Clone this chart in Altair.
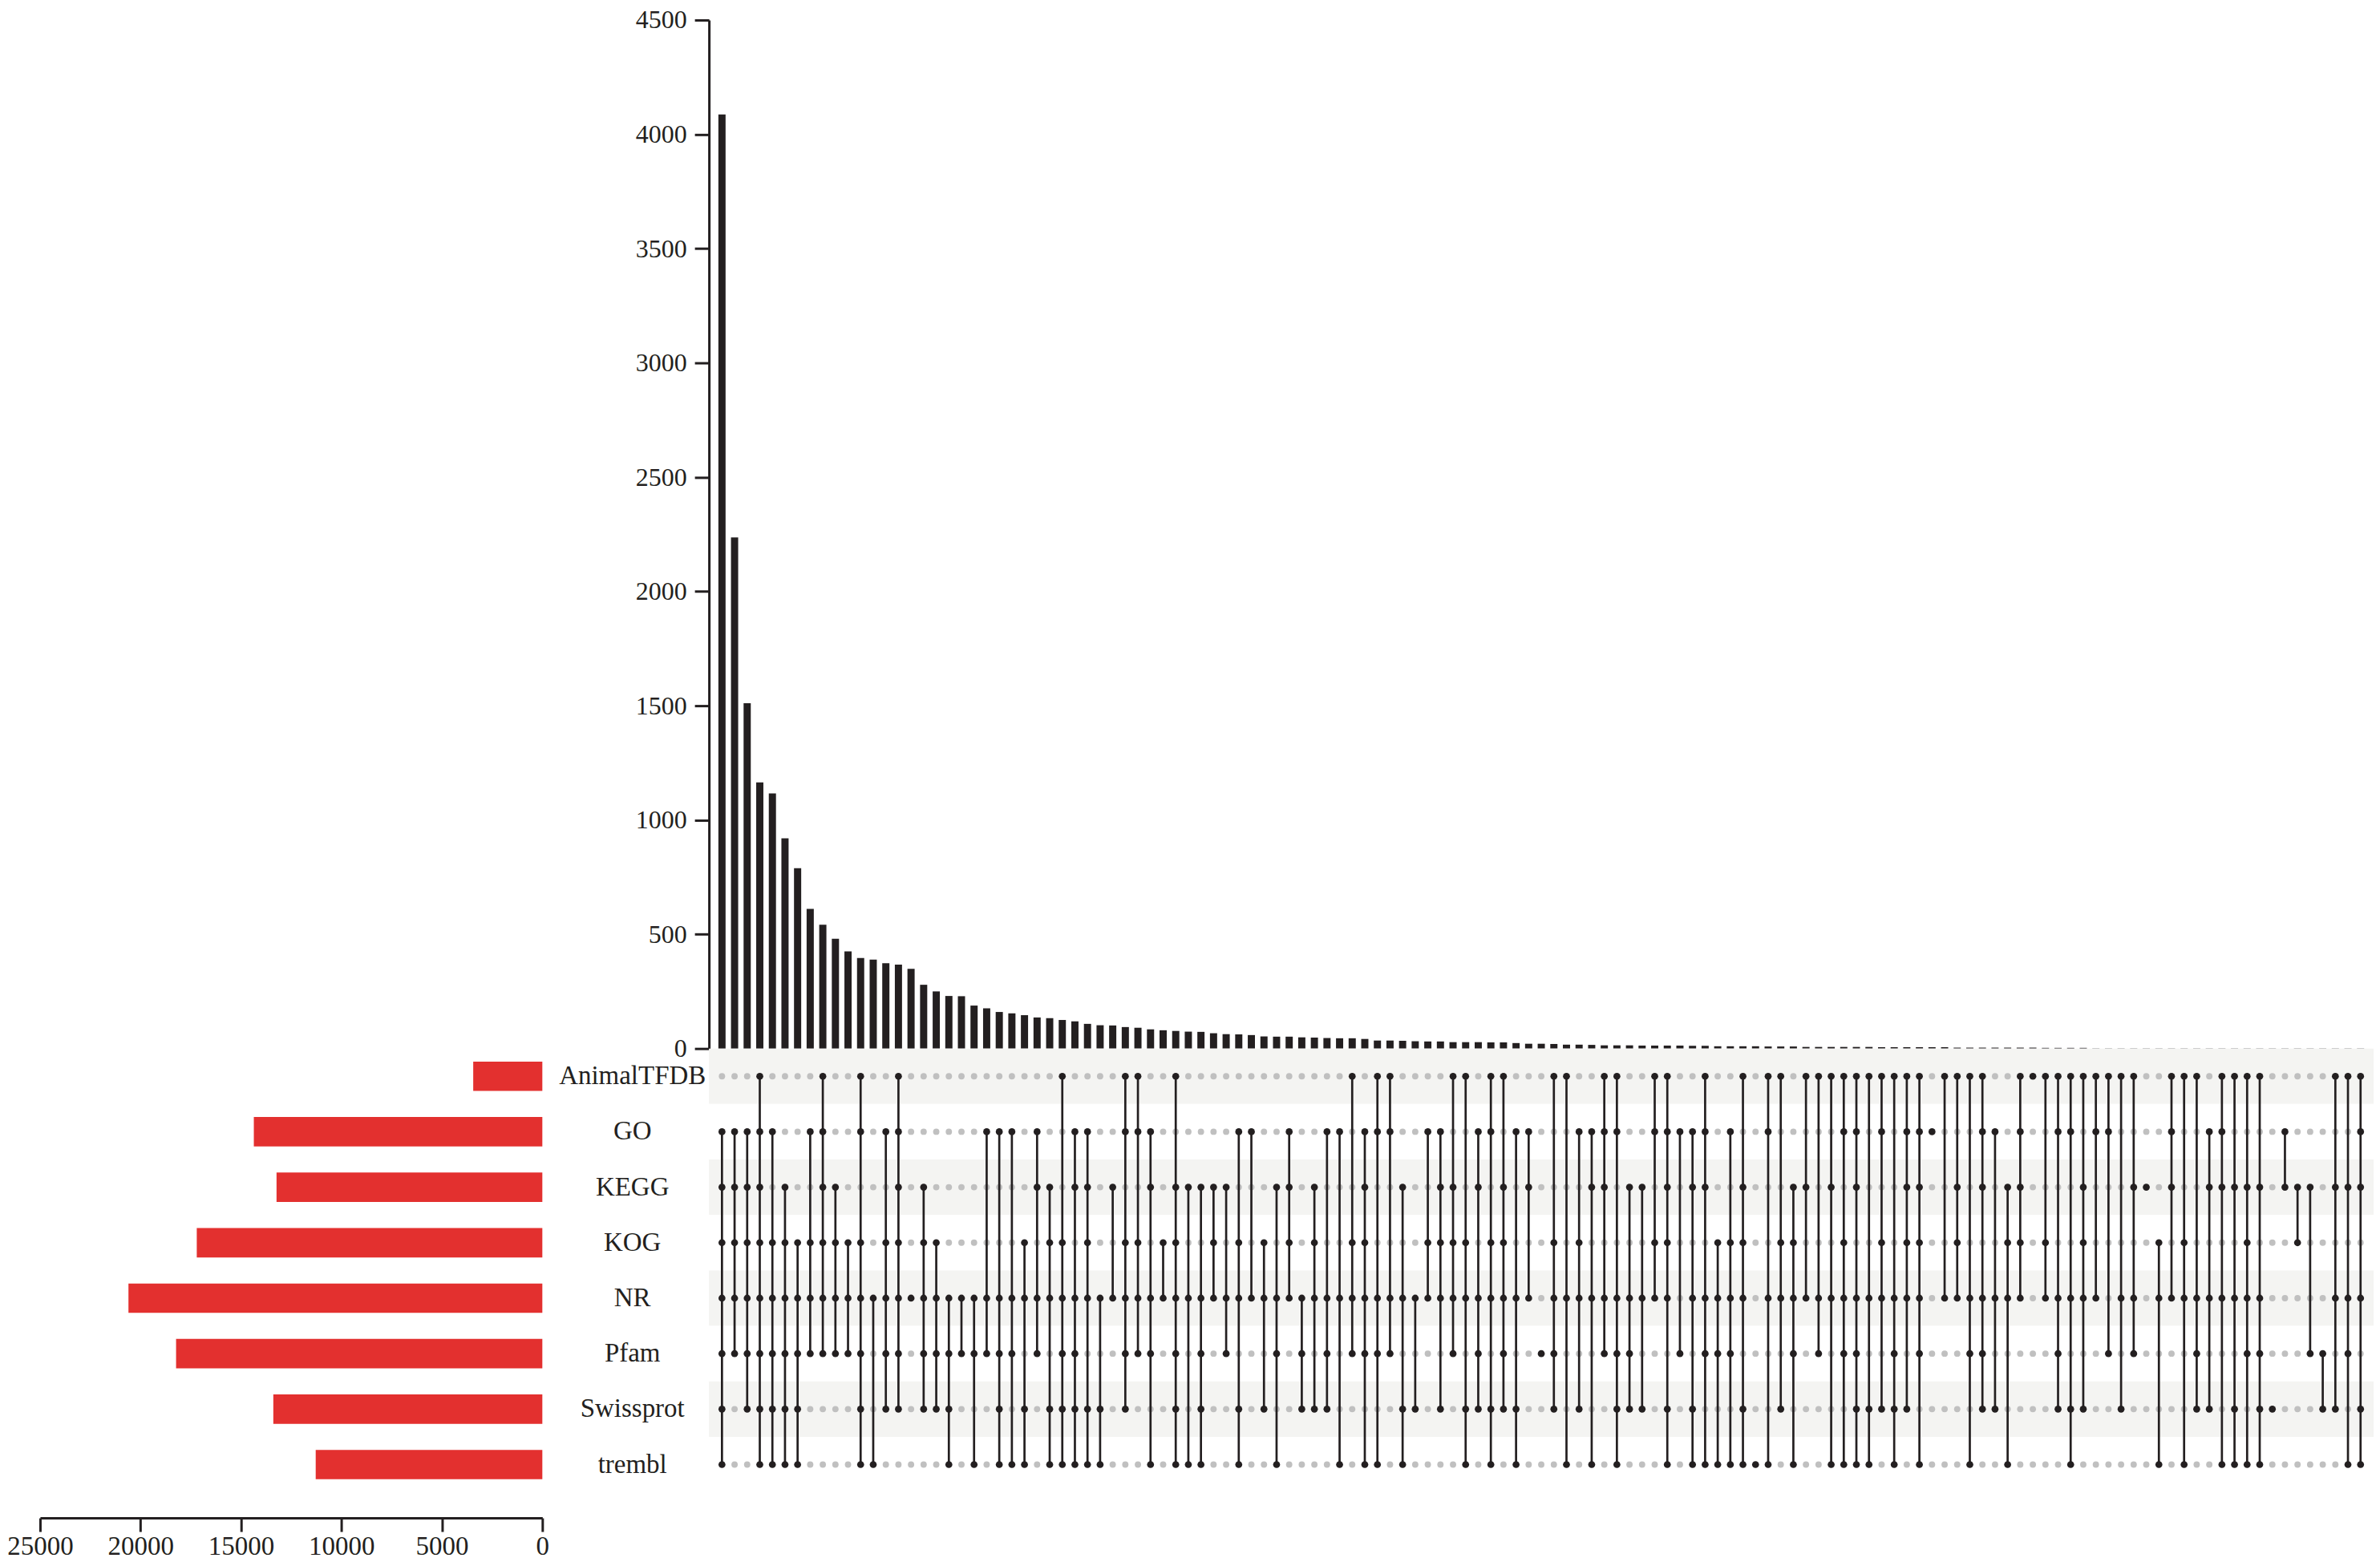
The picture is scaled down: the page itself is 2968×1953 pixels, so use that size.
import altair as alt
import pandas as pd

# ---------------- data ----------------
SETS = ["AnimalTFDB", "GO", "KEGG", "KOG", "NR", "Pfam", "Swissprot", "trembl"]
SET_SIZES = [3440, 14360, 13230, 17200, 20600, 18230, 13390, 11280]

INTERSECTIONS = [
    "GO KEGG KOG NR Pfam Swissprot trembl",
    "GO KEGG KOG NR Pfam",
    "GO KEGG KOG NR Pfam Swissprot",
    "AnimalTFDB GO KEGG KOG NR Pfam Swissprot trembl",
    "GO KOG NR Pfam Swissprot trembl",
    "KEGG KOG NR Pfam Swissprot trembl",
    "KOG NR Pfam Swissprot trembl",
    "GO KOG NR Pfam",
    "AnimalTFDB GO KEGG KOG NR Pfam",
    "KEGG KOG NR Pfam",
    "KOG NR Pfam",
    "AnimalTFDB GO KOG NR Pfam Swissprot trembl",
    "NR trembl",
    "GO KOG NR Pfam Swissprot",
    "AnimalTFDB GO KEGG KOG NR Pfam Swissprot",
    "NR",
    "KEGG KOG NR Pfam Swissprot",
    "KOG NR Pfam Swissprot",
    "NR Pfam Swissprot trembl",
    "NR Pfam",
    "NR Pfam trembl",
    "GO NR Pfam",
    "GO NR Pfam Swissprot trembl",
    "GO NR Pfam trembl",
    "KOG NR Swissprot trembl",
    "GO KEGG NR Pfam",
    "KEGG KOG NR Swissprot trembl",
    "AnimalTFDB KOG NR Pfam Swissprot trembl",
    "GO KEGG NR Pfam Swissprot trembl",
    "GO KEGG KOG NR Swissprot trembl",
    "NR Swissprot trembl",
    "KEGG NR",
    "AnimalTFDB GO KOG NR Pfam Swissprot",
    "AnimalTFDB GO KOG NR Pfam",
    "GO KEGG NR Pfam trembl",
    "KOG NR",
    "AnimalTFDB KEGG KOG NR Pfam Swissprot trembl",
    "KEGG NR trembl",
    "KEGG NR Pfam Swissprot trembl",
    "KEGG KOG NR",
    "KEGG NR Pfam",
    "GO KOG NR Swissprot trembl",
    "GO NR",
    "KOG NR Swissprot",
    "KEGG NR Pfam trembl",
    "GO KEGG KOG NR",
    "NR Pfam Swissprot",
    "KEGG KOG NR Swissprot",
    "GO NR Pfam Swissprot",
    "GO NR trembl",
    "AnimalTFDB KOG NR Pfam",
    "GO KEGG KOG NR Pfam trembl",
    "AnimalTFDB GO NR Pfam trembl",
    "AnimalTFDB GO NR Pfam",
    "KEGG NR Swissprot trembl",
    "NR Swissprot",
    "GO KOG NR",
    "GO KEGG KOG NR Swissprot",
    "AnimalTFDB KEGG KOG NR Pfam",
    "AnimalTFDB KOG NR Swissprot trembl",
    "GO KEGG NR Pfam Swissprot",
    "AnimalTFDB GO KOG NR Swissprot trembl",
    "AnimalTFDB KEGG KOG NR Pfam Swissprot",
    "GO NR Swissprot trembl",
    "GO KEGG NR",
    "Pfam",
    "AnimalTFDB KOG NR Pfam Swissprot",
    "AnimalTFDB NR trembl",
    "GO KOG NR Swissprot",
    "GO KEGG NR trembl",
    "AnimalTFDB GO KEGG NR Pfam",
    "AnimalTFDB GO NR Pfam Swissprot trembl",
    "KEGG NR Pfam Swissprot",
    "KEGG NR Swissprot",
    "AnimalTFDB GO KOG NR",
    "AnimalTFDB GO KEGG KOG NR Swissprot trembl",
    "GO Pfam",
    "GO KEGG NR Swissprot trembl",
    "AnimalTFDB GO KEGG NR Pfam trembl",
    "KOG NR Pfam trembl",
    "GO KOG NR Pfam trembl",
    "AnimalTFDB KEGG KOG NR Swissprot trembl",
    "trembl",
    "AnimalTFDB GO NR trembl",
    "AnimalTFDB KOG NR Swissprot",
    "KEGG KOG NR Pfam trembl",
    "AnimalTFDB KEGG NR",
    "AnimalTFDB NR Pfam",
    "AnimalTFDB KEGG NR trembl",
    "AnimalTFDB GO KOG NR Pfam trembl",
    "AnimalTFDB GO KEGG NR Pfam Swissprot trembl",
    "AnimalTFDB NR Swissprot trembl",
    "AnimalTFDB GO KOG NR Swissprot",
    "AnimalTFDB NR Pfam Swissprot trembl",
    "AnimalTFDB GO KEGG KOG NR Swissprot",
    "AnimalTFDB GO KEGG KOG NR Pfam trembl",
    "GO",
    "AnimalTFDB NR",
    "AnimalTFDB KEGG KOG NR",
    "AnimalTFDB NR Pfam trembl",
    "AnimalTFDB GO KEGG NR Pfam Swissprot",
    "GO NR Swissprot",
    "KEGG KOG NR trembl",
    "AnimalTFDB GO KEGG KOG NR",
    "AnimalTFDB",
    "AnimalTFDB KOG NR",
    "AnimalTFDB GO NR Pfam Swissprot",
    "AnimalTFDB GO NR Swissprot trembl",
    "AnimalTFDB KEGG KOG NR Swissprot",
    "AnimalTFDB GO NR",
    "AnimalTFDB GO Pfam",
    "AnimalTFDB NR Swissprot",
    "AnimalTFDB KEGG NR Pfam",
    "KEGG",
    "KOG NR trembl",
    "AnimalTFDB GO KEGG NR",
    "AnimalTFDB KOG NR trembl",
    "AnimalTFDB NR Pfam Swissprot",
    "GO KEGG NR Swissprot",
    "AnimalTFDB GO KEGG NR trembl",
    "AnimalTFDB KEGG NR Swissprot trembl",
    "AnimalTFDB KEGG KOG NR Pfam trembl",
    "AnimalTFDB KEGG NR Pfam Swissprot trembl",
    "Swissprot",
    "GO KEGG",
    "KEGG KOG",
    "KEGG Pfam",
    "Pfam Swissprot",
    "AnimalTFDB KEGG NR Swissprot",
    "AnimalTFDB KEGG NR Pfam trembl",
    "AnimalTFDB GO KEGG NR Swissprot trembl",
]

COUNTS = [
    4087, 2236, 1511, 1164, 1116, 920, 789, 611, 542, 480,
    425, 396, 389, 373, 367, 349, 279, 250, 230, 229,
    188, 176, 160, 154, 146, 136, 133, 125, 119, 108,
    102, 101, 94, 91, 84, 80, 77, 74, 73, 67,
    63, 62, 59, 53, 52, 52, 49, 48, 46, 45,
    45, 42, 35, 35, 34, 32, 31, 31, 28, 28,
    28, 27, 27, 24, 21, 21, 20, 17, 17, 16,
    14, 14, 14, 13, 13, 13, 13, 12, 12, 10,
    10, 10, 10, 9, 9, 9, 7, 7, 7, 7,
    7, 7, 6, 6, 6, 6, 6, 6, 4, 4,
    4, 4, 4, 4, 4, 3, 3, 3, 3, 1,
    1, 1, 1, 1, 1, 1, 1, 1, 1, 1,
    1, 1, 1, 1, 1, 1, 1, 1, 1, 1,
    1,
]

BAR_TICKS = [0, 500, 1000, 1500, 2000, 2500, 3000, 3500, 4000, 4500]
SIZE_TICKS = [0, 5000, 10000, 15000, 20000, 25000]

assert len(COUNTS) == len(INTERSECTIONS)

# ---------------- tables ----------------
COLS = [f"c{i:03d}" for i in range(len(COUNTS))]
bars_df = pd.DataFrame({"col": COLS, "count": COUNTS})

cell_rows, line_rows = [], []
for c, members in zip(COLS, INTERSECTIONS):
    mem = members.split()
    for s in SETS:
        cell_rows.append({"col": c, "set": s, "member": s in mem})
    idx = sorted(SETS.index(m) for m in mem)
    if len(idx) > 1:
        line_rows.append({"col": c, "top": SETS[idx[0]], "bottom": SETS[idx[-1]]})
cells_df = pd.DataFrame(cell_rows)
lines_df = pd.DataFrame(line_rows)
stripe_df = pd.DataFrame({"set": SETS,
                          "stripe": ["shade" if i % 2 == 0 else "plain" for i in range(len(SETS))]})
size_df = pd.DataFrame({"set": SETS, "size": SET_SIZES})

# ---------------- style ----------------
FONT = "Liberation Serif"
INK = "#231F20"
RED = "#E3302F"
GREY_DOT = "#C0C0C0"
STRIPE = "#F4F4F2"

W_LEFT = 627
W_MAIN = 2078
H_TOP = 1284
H_MAT = 554

xscale = alt.Scale(domain=COLS, paddingInner=0.43, paddingOuter=0.748)


def xdef():
    return alt.X("col:N", sort=None, scale=xscale, axis=None)


def ydef(field):
    return alt.Y(f"{field}:N", sort=SETS,
                 scale=alt.Scale(domain=SETS, paddingInner=0, paddingOuter=0),
                 axis=alt.Axis(title=None, ticks=False, tickSize=0, domain=False,
                               labelAlign="center", labelBaseline="middle",
                               labelLimit=500,
                               labelPadding=96, labelFont=FONT, labelFontSize=33,
                               labelColor=INK))


# top bar chart
bar_chart = alt.Chart(bars_df).mark_bar(color=INK).encode(
    x=xdef(),
    y=alt.Y("count:Q",
            scale=alt.Scale(domain=[0, 4500], nice=False, zero=True),
            axis=alt.Axis(values=BAR_TICKS, format="d", title=None, grid=False,
                          tickSize=18, tickWidth=3, tickColor=INK,
                          domainWidth=3, domainColor=INK,
                          labelFont=FONT, labelFontSize=32, labelColor=INK,
                          labelPadding=10)),
).properties(width=W_MAIN, height=H_TOP)

# matrix
stripes = alt.Chart(stripe_df).mark_rect().encode(
    y=ydef("set"),
    color=alt.Color("stripe:N", scale=alt.Scale(domain=["shade", "plain"],
                                                range=[STRIPE, "#FFFFFF"]), legend=None),
)
grey_dots = alt.Chart(cells_df).transform_filter("!datum.member").mark_circle(
    size=62, color=GREY_DOT, opacity=1).encode(x=xdef(), y=ydef("set"))
rules = alt.Chart(lines_df).mark_rule(color=INK, strokeWidth=2.7).encode(
    x=xdef(), y=ydef("top"), y2=alt.Y2("bottom:N"))
black_dots = alt.Chart(cells_df).transform_filter("datum.member").mark_circle(
    size=76, color=INK, opacity=1).encode(x=xdef(), y=ydef("set"))

matrix = alt.layer(stripes, grey_dots, rules, black_dots).properties(
    width=W_MAIN, height=H_MAT)

# set size bars
setsize = alt.Chart(size_df).mark_bar(color=RED).encode(
    y=alt.Y("set:N", sort=SETS,
            scale=alt.Scale(domain=SETS, paddingInner=0.47, paddingOuter=0.235),
            axis=None),
    x=alt.X("size:Q",
            scale=alt.Scale(domain=[0, 25000], reverse=True, nice=False),
            axis=alt.Axis(values=SIZE_TICKS, format="d", title=None, grid=False,
                          labelFlush=False, labelOverlap=False,
                          offset=32, tickSize=17, tickWidth=3, tickColor=INK,
                          domainWidth=3, domainColor=INK,
                          labelFont=FONT, labelFontSize=33, labelColor=INK,
                          labelPadding=2)),
).properties(width=W_LEFT, height=H_MAT)

placeholder = alt.Chart(pd.DataFrame({"t": [""]})).mark_text().encode(
    text="t:N").properties(width=W_LEFT, height=H_TOP)

chart = alt.concat(
    placeholder, bar_chart, setsize, matrix,
    columns=2, spacing={"row": 0, "column": 208}, bounds="flush",
).properties(padding=0).configure(
    font=FONT, background="white",
    view=alt.ViewConfig(stroke="transparent", strokeWidth=0),
)

chart.save("out.html", embed_options={"renderer": "svg", "actions": False})
